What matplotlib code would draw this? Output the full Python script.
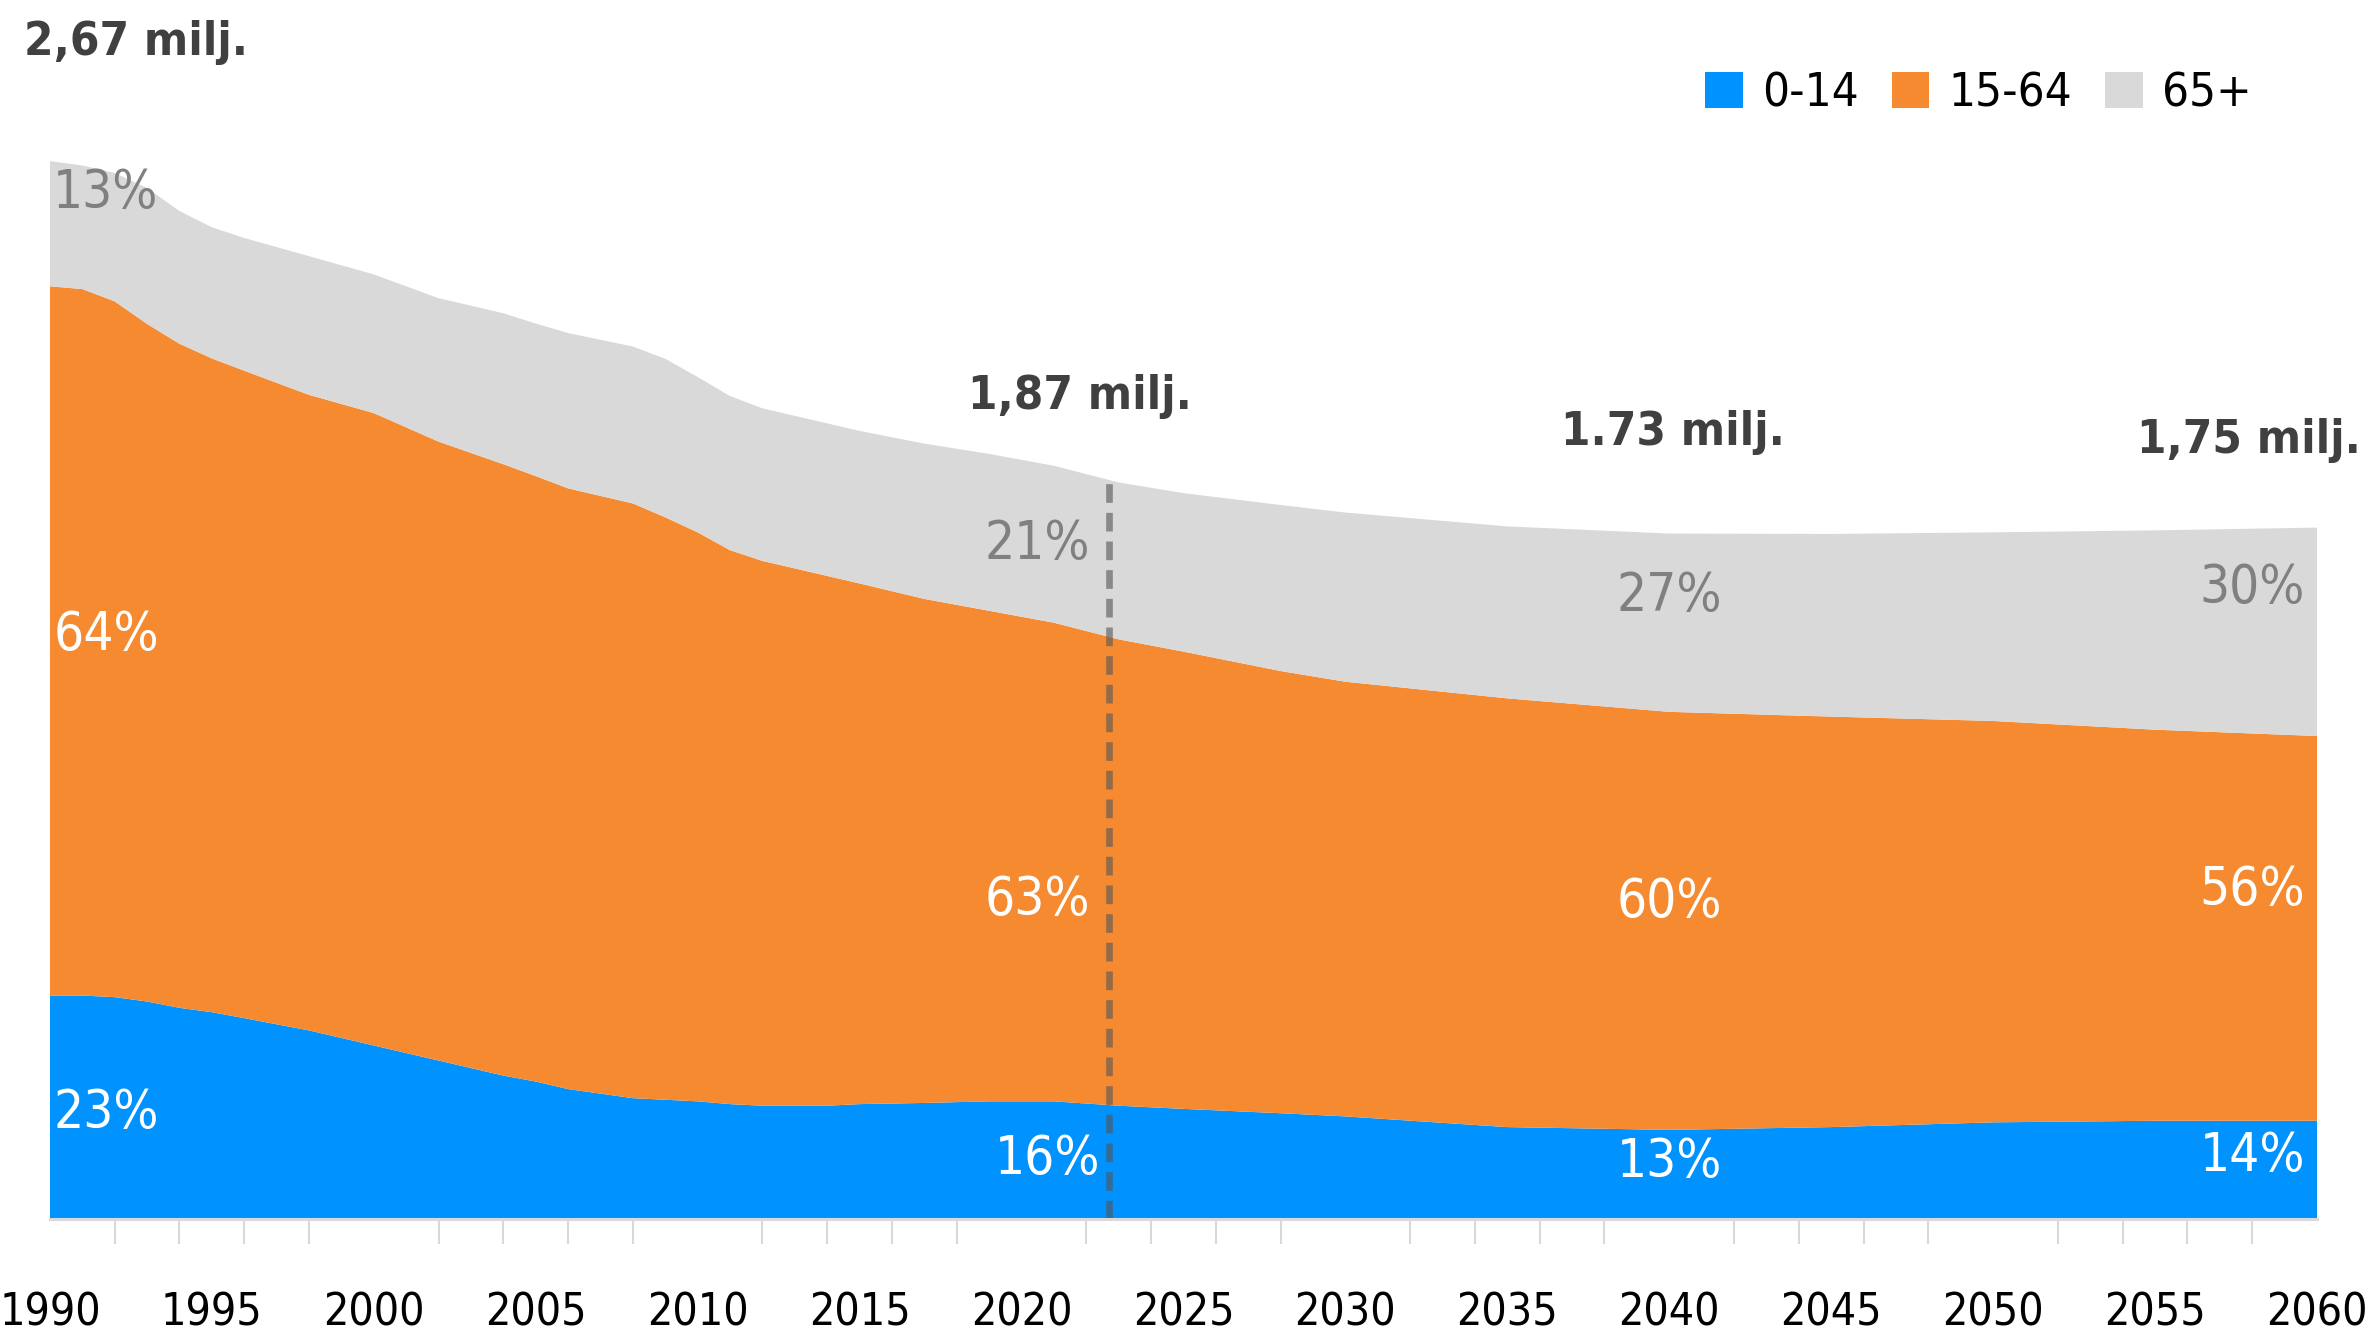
import matplotlib
matplotlib.use("Agg")
import matplotlib.pyplot as plt
from matplotlib.patches import Patch
from matplotlib import font_manager as fm
import numpy as np

# population by age group, millions
years = [1990, 1991, 1992, 1993, 1994, 1995, 1996, 1998, 2000, 2002, 2004, 2005,
         2006, 2008, 2009, 2010, 2011, 2012, 2014, 2015, 2017, 2019, 2021, 2023,
         2025, 2028, 2030, 2035, 2040, 2045, 2050, 2055, 2060]
age_0_14 = [0.564, 0.564, 0.560, 0.549, 0.533, 0.522, 0.507, 0.476, 0.438, 0.400,
            0.362, 0.347, 0.328, 0.305, 0.301, 0.297, 0.290, 0.286, 0.286, 0.290,
            0.293, 0.297, 0.297, 0.286, 0.278, 0.267, 0.259, 0.232, 0.225, 0.232,
            0.244, 0.248, 0.248]
age_15_64 = [1.790, 1.783, 1.756, 1.710, 1.676, 1.650, 1.634, 1.604, 1.596, 1.562,
             1.543, 1.528, 1.516, 1.501, 1.470, 1.436, 1.398, 1.375, 1.337, 1.314,
             1.272, 1.238, 1.208, 1.177, 1.154, 1.116, 1.097, 1.082, 1.055, 1.036,
             1.013, 0.987, 0.971]
age_65 = [0.316, 0.312, 0.324, 0.343, 0.335, 0.331, 0.335, 0.350, 0.350, 0.362,
          0.381, 0.385, 0.392, 0.396, 0.400, 0.392, 0.389, 0.385, 0.385, 0.385,
          0.392, 0.396, 0.396, 0.396, 0.400, 0.419, 0.427, 0.434, 0.450, 0.461,
          0.476, 0.503, 0.526]

groups = ["0-14", "15-64", "65+"]
colors = ["#0092ff", "#f58a30", "#d9d9d9"]
today = 2022.7

# share labels: (year, value, text, group index)
share_labels = [
    (1990.1, 2.590, "13%", 2), (1990.1, 1.474, "64%", 1), (1990.1, 0.267, "23%", 0),
    (2020.5, 1.703, "21%", 2), (2020.5, 0.804, "63%", 1), (2020.8, 0.152, "16%", 0),
    (2040.0, 1.573, "27%", 2), (2040.0, 0.800, "60%", 1), (2040.0, 0.145, "13%", 0),
    (2058.0, 1.592, "30%", 2), (2058.0, 0.830, "56%", 1), (2058.0, 0.160, "14%", 0),
]
totals = [(1989.2, 2.97, "2,67 milj.", "left"), (2021.8, 2.076, "1,87 milj.", "center"),
          (2040.1, 1.985, "1.73 milj.", "center"), (2057.9, 1.966, "1,75 milj.", "center")]

# the original uses a condensed face, take one if there is any
narrow = None
for f in fm.fontManager.ttflist:
    if f.stretch not in ("normal", 500) or "Condensed" in f.name or "Narrow" in f.name:
        narrow = f
        break
if narrow is not None:
    plt.rcParams["font.family"] = [narrow.name, "DejaVu Sans"]
    plt.rcParams["font.stretch"] = narrow.stretch
    k = 1.0
else:
    plt.rcParams["font.family"] = ["DejaVu Sans"]
    k = 0.8

fig = plt.figure(figsize=(23.65, 13.39), dpi=100)
ax = fig.add_axes([0.0211, 0.0896, 0.9586, 0.7901])

y = np.array([age_0_14, age_15_64, age_65])
ax.stackplot(years, y, colors=colors, linewidth=0)

ax.set_xlim(1990, 2060)
ax.set_ylim(0, 2.67)

top = np.interp(today, years, y.sum(axis=0))
ax.plot([today, today], [0, top], color="#555555", alpha=0.6, lw=4.8,
        dashes=(2.8, 1.5), solid_capstyle="butt", dash_capstyle="butt")

txt_col = ["white", "white", "#808080"]
for x, v, s, g in share_labels:
    ha = "left" if x < 1991 else "center"
    ax.text(x, v, s, color=txt_col[g], fontsize=38 * k, ha=ha, va="center")

for x, v, s, ha in totals:
    ax.text(x, v, s, color="#404040", fontsize=34 * k, fontweight="bold",
            ha=ha, va="center", clip_on=False)

for side in ["left", "right", "top"]:
    ax.spines[side].set_visible(False)
ax.spines["bottom"].set_color("#d9d9d9")
ax.spines["bottom"].set_linewidth(2.2)
ax.set_yticks([])
ax.set_xticks(range(1990, 2061, 5))
ax.set_xticks(range(1990, 2061, 2), minor=True)
ax.tick_params(axis="x", which="major", length=0, pad=52, labelsize=32 * k)
ax.tick_params(axis="x", which="minor", length=18, width=1.5, color="#d9d9d9")

handles = [Patch(facecolor=c, label=n) for c, n in zip(colors, groups)]
fig.legend(handles=handles, loc="center right", bbox_to_anchor=(0.952, 0.930),
           ncol=3, frameon=False, fontsize=34 * k, handlelength=0.8, handleheight=0.8,
           handletextpad=0.4, columnspacing=0.7, borderpad=0, borderaxespad=0)

fig.savefig("out.png", dpi=100)
